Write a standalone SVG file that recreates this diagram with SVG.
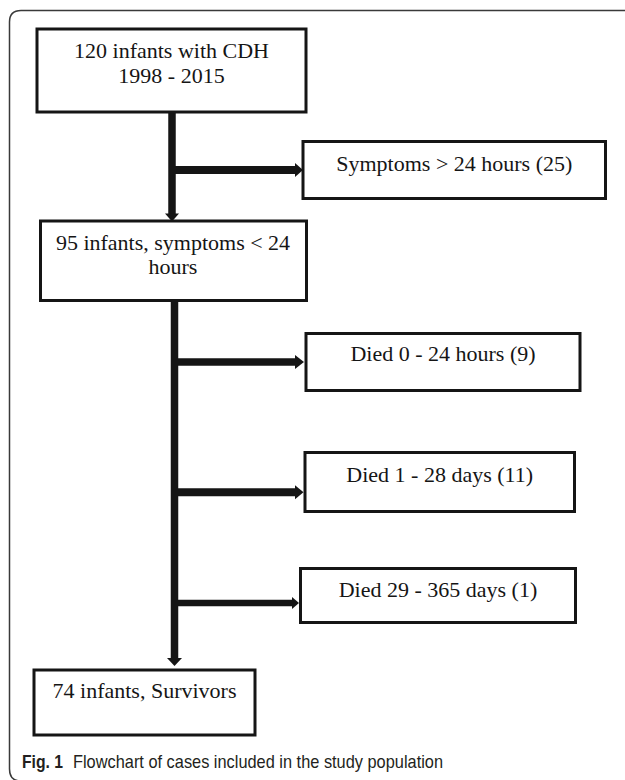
<svg xmlns="http://www.w3.org/2000/svg" width="625" height="780" viewBox="0 0 625 780">
  <style>
    .box { fill: #ffffff; stroke: #151515; stroke-width: 3; }
    .lbl { font-family: "Liberation Serif", "Times New Roman", serif; font-size: 22px; fill: #151515; text-anchor: middle; }
    .line { stroke: #151515; fill: none; }
    .head { fill: #151515; stroke: none; }
    .cap { font-family: "Liberation Sans", Arial, sans-serif; font-size: 19px; fill: #231f20; }
  </style>
  <rect width="625" height="780" fill="#ffffff"/>
  <path d="M 626 10.5 H 21 Q 9.5 10.5 9.5 22 V 769 Q 9.5 781 21 781" fill="none" stroke="#3a3a3a" stroke-width="1.5"/>

  <g id="connectors">
    <line class="line" x1="172" y1="112" x2="172" y2="214" stroke-width="7.5"/>
    <polygon class="head" points="165,213.5 179,213.5 172,221.5"/>
    <line class="line" x1="175" y1="170" x2="296" y2="170" stroke-width="8"/>
    <polygon class="head" points="295,163 295,177 303,170"/>

    <line class="line" x1="174.5" y1="301" x2="174.5" y2="659" stroke-width="7.5"/>
    <polygon class="head" points="167,658 182,658 174.5,666"/>
    <line class="line" x1="178" y1="362" x2="296" y2="362" stroke-width="7.5"/>
    <polygon class="head" points="295,355 295,369 304,362"/>
    <line class="line" x1="178" y1="492.3" x2="296" y2="492.3" stroke-width="8"/>
    <polygon class="head" points="295,485.3 295,499.3 303.5,492.3"/>
    <line class="line" x1="178" y1="603" x2="293" y2="603" stroke-width="6.5"/>
    <polygon class="head" points="292,597 292,609 299,603"/>
  </g>

  <g id="n1">
    <rect class="box" x="37" y="29" width="269" height="83"/>
    <text class="lbl" x="171.5" y="58.3">120 infants with CDH</text>
    <text class="lbl" x="171.5" y="83">1998 - 2015</text>
  </g>
  <g id="n2">
    <rect class="box" x="303" y="141.5" width="302.5" height="57"/>
    <text class="lbl" x="454.3" y="170.7">Symptoms &gt; 24 hours (25)</text>
  </g>
  <g id="n3">
    <rect class="box" x="40.5" y="221" width="266" height="79.5"/>
    <text class="lbl" x="173" y="250">95 infants, symptoms &lt; 24</text>
    <text class="lbl" x="173" y="274">hours</text>
  </g>
  <g id="n4">
    <rect class="box" x="306" y="333.5" width="274" height="57"/>
    <text class="lbl" x="443" y="360.7">Died 0 - 24 hours (9)</text>
  </g>
  <g id="n5">
    <rect class="box" x="305" y="452.5" width="269.5" height="59"/>
    <text class="lbl" x="439.7" y="481.7">Died 1 - 28 days (11)</text>
  </g>
  <g id="n6">
    <rect class="box" x="300.5" y="568.5" width="275" height="54"/>
    <text class="lbl" x="438" y="597.3">Died 29 - 365 days (1)</text>
  </g>
  <g id="n7">
    <rect class="box" x="34" y="670" width="221" height="65"/>
    <text class="lbl" x="144.5" y="698.3">74 infants, Survivors</text>
  </g>

  <g id="caption">
    <text class="cap" x="22" y="768" font-weight="bold" textLength="41" lengthAdjust="spacingAndGlyphs">Fig. 1</text>
    <text class="cap" x="73" y="768" textLength="370" lengthAdjust="spacingAndGlyphs">Flowchart of cases included in the study population</text>
  </g>
</svg>
